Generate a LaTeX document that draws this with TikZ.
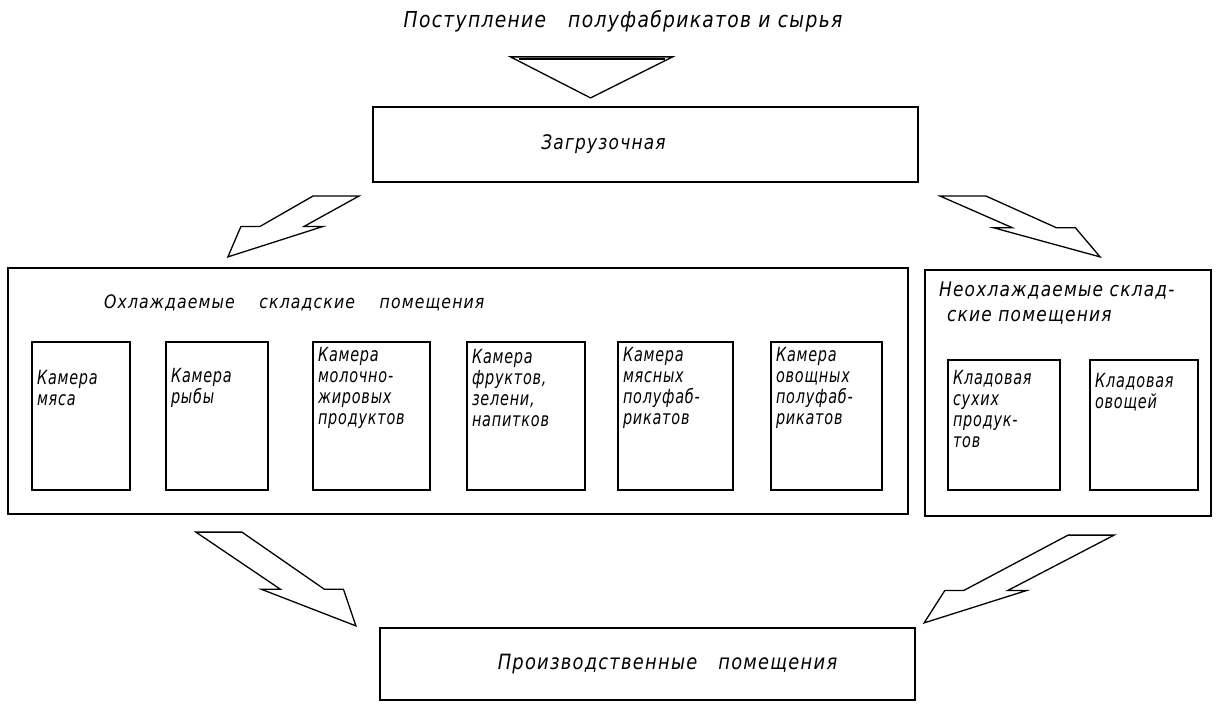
\documentclass[tikz,border=0pt]{standalone}
\usepackage{fontspec}
\setmainfont{DejaVu Sans}[FakeStretch=0.74,LetterSpace=4]
\newfontfamily\headfont{DejaVu Sans}[FakeStretch=0.85,LetterSpace=6]
\usetikzlibrary{calc}

% hollow block arrow with level cuts: from #1 to tip #2, shoulders at #3
\newcommand\flowarrow[3]{%
  \coordinate (shoulder) at ($(#1)!#3!(#2)$);
  \draw[flow] ($(#1)+(-23,0)$) -- ($(shoulder)+(-22,0)$) -- ($(shoulder)+(-41,0)$) -- (#2)
    -- ($(shoulder)+(41,0)$) -- ($(shoulder)+(22,0)$) -- ($(#1)+(23,0)$) -- cycle;
}

\begin{document}
\begin{tikzpicture}
  [x=1pt,y=-1pt,every node/.style={font=\itshape\fontsize{19.5}{21}\selectfont,inner sep=0pt},
   flow/.style={draw,line width=1.3pt,line join=miter},
   headtext/.style={font=\headfont\itshape\fontsize{#1}{25}\selectfont},
   roomtext/.style={align=left,yshift=#1},roomtext/.default=28]

  \tikzstyle{hall} = [draw,rectangle,line width=2.2pt]
  \tikzstyle{room} = [draw,rectangle,line width=1.7pt,minimum height=148]

  \useasboundingbox (0,0) rectangle (1219,708);

  \node[headtext=22] (supply) at (623,21) {Поступление\quad полуфабрикатов и сырья};

  \node[hall,minimum width=545,minimum height=75,
        label={[xshift=-42,headtext=20]center:Загрузочная}] (load) at (645.5,144.5) {};

  % cooled stores
  \node[hall,minimum width=900,minimum height=246,
        label={[anchor=west,xshift=97,yshift=-36,headtext=18.5]north west:Охлаждаемые\quad\ складские\quad\ помещения}] (cold) at (458,391) {};
  \node[room,minimum width=98,label={[roomtext,text width=88]center:Камера\\мяса}] (meat) at (81,416) {};
  \node[room,minimum width=102,label={[roomtext,text width=92]center:Камера\\рыбы}] (fish) at (217,416) {};
  \node[room,minimum width=117,label={[roomtext,text width=107]center:Камера\\молочно-\\жировых\\продуктов}] (dairy) at (371.5,416) {};
  \node[room,minimum width=118,label={[roomtext,text width=108]center:Камера\\фруктов,\\зелени,\\напитков}] (fruit) at (526,416) {};
  \node[room,minimum width=115,label={[roomtext,text width=105]center:Камера\\мясных\\полуфаб-\\рикатов}] (meatsemi) at (675.5,416) {};
  \node[room,minimum width=111,label={[roomtext,text width=101]center:Камера\\овощных\\полуфаб-\\рикатов}] (vegsemi) at (826.5,416) {};

  % uncooled stores
  \node[hall,minimum width=286,minimum height=246,
        label={[anchor=north west,xshift=15,yshift=-13,align=left,headtext=20]north west:Неохлаждаемые склад-\\\hspace*{8pt}ские помещения}] (warm) at (1068,393) {};
  \node[room,minimum width=112,minimum height=130,label={[roomtext=16,text width=102]center:Кладовая\\сухих\\продук-\\тов}] (dry) at (1004,425) {};
  \node[room,minimum width=108,minimum height=130,label={[roomtext=33,text width=98]center:Кладовая\\овощей}] (veg) at (1144,425) {};

  \node[hall,minimum width=535,minimum height=72,
        label={[xshift=20,headtext=21]center:Производственные\quad помещения}] (prod) at (647.5,664) {};

  % flows
  \coordinate (drop) at ($(load.north)+(-55,-8)$);
  \draw[flow] (drop) -- ++(-80,-41) -- ++(162,0) -- cycle;
  \draw[line width=2.6pt] ($(drop)+(-72,-39)$) -- ++(146,0);

  \coordinate (toColdA) at ($(load.south west)+(-36,13)$);
  \coordinate (toColdB) at ($(cold.north west)+(221,-10)$);
  \coordinate (toWarmA) at ($(load.south east)+(44,13)$);
  \coordinate (toWarmB) at ($(warm.north east)+(-112,-12)$);
  \coordinate (fromColdA) at ($(cold.south west)+(212,17)$);
  \coordinate (fromColdB) at ($(prod.north west)+(-23,-1)$);
  \coordinate (fromWarmA) at ($(warm.south east)+(-121,18)$);
  \coordinate (fromWarmB) at ($(prod.north east)+(8,-4)$);

  \flowarrow{toColdA}{toColdB}{0.5}
  \flowarrow{toWarmA}{toWarmB}{0.52}
  \flowarrow{fromColdA}{fromColdB}{0.61}
  \flowarrow{fromWarmA}{fromWarmB}{0.63}
\end{tikzpicture}
\end{document}
